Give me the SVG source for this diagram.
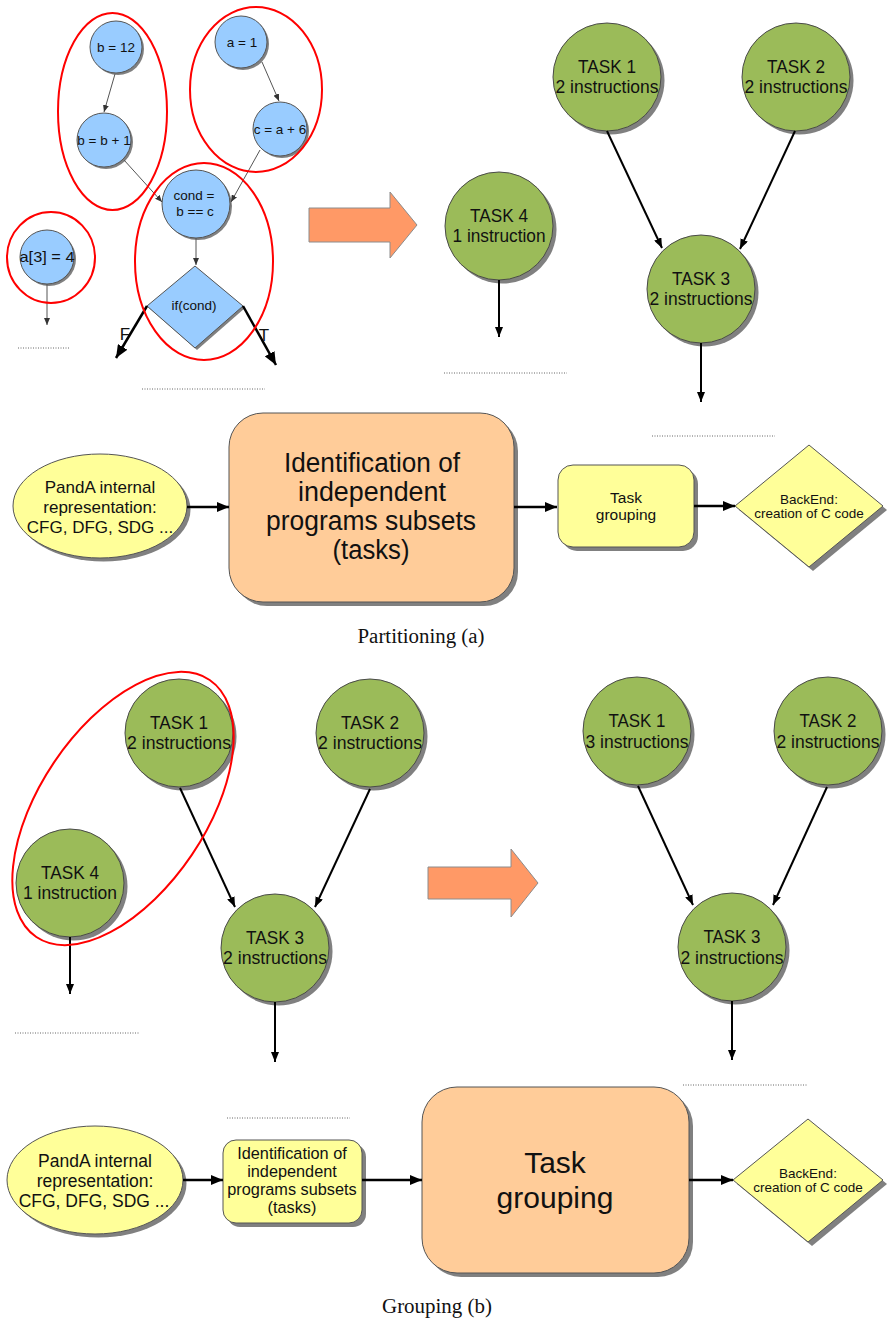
<svg xmlns="http://www.w3.org/2000/svg" width="889" height="1324" viewBox="0 0 889 1324">
  <defs>
    <style>
      text { font-family: "Liberation Sans", Arial, sans-serif; fill: #111; text-anchor: middle; }
      .cap { font-family: "Liberation Serif", "Times New Roman", serif; font-size: 20px; }
      .blue { fill: #99ccff; stroke: #555; stroke-width: 1; }
      .green { fill: #9bbb59; stroke: #4a4a4a; stroke-width: 1; }
      .peach { fill: #ffcc99; stroke: #555; stroke-width: 1; }
      .yellow { fill: #ffff99; stroke: #555; stroke-width: 1; }
      .sh { fill: #808080; stroke: none; }
      .t-blue { font-size: 13.5px; }
      .t-task { font-size: 18px; }
      .thin { stroke: #555; stroke-width: 1; fill: none; marker-end: url(#headS); }
      .thick { stroke: #000; stroke-width: 2; fill: none; marker-end: url(#head); }
      .flow { stroke: #000; stroke-width: 2.5; fill: none; marker-end: url(#headF); }
      .branch { stroke: #000; stroke-width: 2.5; fill: none; marker-end: url(#headL); }
      .group { fill: none; stroke: #ff0000; stroke-width: 2; }
      .dots { stroke: #666; stroke-width: 1; stroke-dasharray: 1 1.5; fill: none; }
      .big-arrow { fill: #ff9966; stroke: #8c8c8c; stroke-width: 1; }
    </style>
    <marker id="head" viewBox="0 0 10 8" refX="10" refY="4" markerWidth="10" markerHeight="8" markerUnits="userSpaceOnUse" orient="auto">
      <path d="M0,0 L10,4 L0,8 z" fill="#000"/>
    </marker>
    <marker id="headS" viewBox="0 0 7 6" refX="7" refY="3" markerWidth="7" markerHeight="6" markerUnits="userSpaceOnUse" orient="auto">
      <path d="M0,0 L7,3 L0,6 z" fill="#333"/>
    </marker>
    <marker id="headF" viewBox="0 0 12 10" refX="12" refY="5" markerWidth="12" markerHeight="10" markerUnits="userSpaceOnUse" orient="auto">
      <path d="M0,0 L12,5 L0,10 z" fill="#000"/>
    </marker>
    <marker id="headL" viewBox="0 0 13 11" refX="13" refY="5.5" markerWidth="13" markerHeight="11" markerUnits="userSpaceOnUse" orient="auto">
      <path d="M0,0 L13,5.5 L0,11 z" fill="#000"/>
    </marker>
  </defs>

  <rect width="889" height="1324" fill="#fff"/>

  <!-- ===== (a) control/data flow graph of the input code ===== -->
  <g id="cfg-b12">
    <circle class="sh" cx="118" cy="49" r="26"/>
    <circle class="blue" cx="116" cy="47" r="26"/>
    <text class="t-blue" x="116" y="52">b = 12</text>
  </g>
  <g id="cfg-bb1">
    <circle class="sh" cx="106" cy="142" r="27"/>
    <circle class="blue" cx="104" cy="140" r="27"/>
    <text class="t-blue" x="104" y="145">b = b + 1</text>
  </g>
  <g id="cfg-a1">
    <circle class="sh" cx="243" cy="44" r="26"/>
    <circle class="blue" cx="241" cy="42" r="26"/>
    <text class="t-blue" x="242" y="47">a = 1</text>
  </g>
  <g id="cfg-ca6">
    <circle class="sh" cx="282" cy="131" r="27"/>
    <circle class="blue" cx="280" cy="129" r="27"/>
    <text class="t-blue" x="280" y="134">c = a + 6</text>
  </g>
  <g id="cfg-cond">
    <circle class="sh" cx="198" cy="206" r="34"/>
    <circle class="blue" cx="196" cy="204" r="34"/>
    <text class="t-blue" x="194" y="200">cond =</text>
    <text class="t-blue" x="195" y="216">b == c</text>
  </g>
  <g id="cfg-a3">
    <circle class="sh" cx="49" cy="259" r="27"/>
    <circle class="blue" cx="47" cy="257" r="27"/>
    <text x="47" y="262" font-size="15" textLength="55" lengthAdjust="spacingAndGlyphs">a[3] = 4</text>
  </g>
  <g id="cfg-if">
    <polygon class="sh" points="197,268 245,308 197,350 149,308"/>
    <polygon class="blue" points="195,266 243,306 195,348 147,306"/>
    <text class="t-blue" x="194" y="310">if(cond)</text>
  </g>

  <g id="cfg-edges">
    <path class="thin" d="M115,74 L104,112"/>
    <path class="thin" d="M124,160 L162,202"/>
    <path class="thin" d="M262,62 L279,101"/>
    <path class="thin" d="M260,150 L231,202"/>
    <path class="thin" d="M196,238 L196,265"/>
    <path class="thin" d="M47,284 L47,325"/>
    <path class="branch" d="M147,306 L116,358"/>
    <path class="branch" d="M243,306 L276,365"/>
    <text x="125" y="340" font-size="17">F</text>
    <text x="264" y="341" font-size="17">T</text>
  </g>

  <!-- subsets found in the graph -->
  <g id="cfg-subsets">
    <ellipse class="group" cx="112.5" cy="111.5" rx="54.5" ry="98.5"/>
    <ellipse class="group" cx="256" cy="89.5" rx="66" ry="82.5"/>
    <ellipse class="group" cx="204" cy="261.5" rx="69" ry="98.5"/>
    <ellipse class="group" cx="51" cy="257.5" rx="44" ry="45.5"/>
  </g>

  <path class="dots" d="M18,348 H70 M142,389 H265 M444,373 H567 M652,436 H775"/>

  <polygon id="step-arrow-a" class="big-arrow" points="309,208 390,208 390,192 417,225 390,258 390,242 309,242"/>

  <!-- resulting tasks -->
  <g id="a-task1">
    <circle class="sh" cx="610.5" cy="80.5" r="54"/>
    <circle class="green" cx="607" cy="77" r="54"/>
    <text class="t-task" x="607" y="73" textLength="58" lengthAdjust="spacingAndGlyphs">TASK 1</text>
    <text class="t-task" x="607" y="93" textLength="103" lengthAdjust="spacingAndGlyphs">2 instructions</text>
  </g>
  <g id="a-task2">
    <circle class="sh" cx="799.5" cy="80.5" r="54"/>
    <circle class="green" cx="796" cy="77" r="54"/>
    <text class="t-task" x="796" y="73" textLength="58" lengthAdjust="spacingAndGlyphs">TASK 2</text>
    <text class="t-task" x="796" y="93" textLength="103" lengthAdjust="spacingAndGlyphs">2 instructions</text>
  </g>
  <g id="a-task3">
    <circle class="sh" cx="704.5" cy="292.5" r="54"/>
    <circle class="green" cx="701" cy="289" r="54"/>
    <text class="t-task" x="701" y="285" textLength="58" lengthAdjust="spacingAndGlyphs">TASK 3</text>
    <text class="t-task" x="701" y="305" textLength="103" lengthAdjust="spacingAndGlyphs">2 instructions</text>
  </g>
  <g id="a-task4">
    <circle class="sh" cx="502.5" cy="229.5" r="54"/>
    <circle class="green" cx="499" cy="226" r="54"/>
    <text class="t-task" x="499" y="222" textLength="58" lengthAdjust="spacingAndGlyphs">TASK 4</text>
    <text class="t-task" x="499" y="242" textLength="93" lengthAdjust="spacingAndGlyphs">1 instruction</text>
  </g>
  <g id="a-task-edges">
    <path class="thick" d="M607,131 L662,248"/>
    <path class="thick" d="M795,131 L740,249"/>
    <path class="thick" d="M499,280 L499,337"/>
    <path class="thick" d="M701,343 L701,402"/>
  </g>

  <!-- flow (a): partitioning highlighted -->
  <g id="a-ir">
    <ellipse class="sh" cx="103.5" cy="509.5" rx="87" ry="52"/>
    <ellipse class="yellow" cx="100" cy="506" rx="87" ry="52"/>
    <text x="100" y="493" font-size="17">PandA internal</text>
    <text x="100" y="513" font-size="17">representation:</text>
    <text x="100" y="533" font-size="17">CFG, DFG, SDG ...</text>
  </g>
  <g id="a-partition">
    <rect class="sh" x="233" y="417" width="285" height="189" rx="34"/>
    <rect class="peach" x="229" y="413" width="285" height="189" rx="34"/>
    <text x="372" y="472" font-size="27" textLength="176" lengthAdjust="spacingAndGlyphs">Identification of</text>
    <text x="372" y="501" font-size="27" textLength="148" lengthAdjust="spacingAndGlyphs">independent</text>
    <text x="371" y="530" font-size="27" textLength="210" lengthAdjust="spacingAndGlyphs">programs subsets</text>
    <text x="371" y="559" font-size="27" textLength="77" lengthAdjust="spacingAndGlyphs">(tasks)</text>
  </g>
  <g id="a-grouping">
    <rect class="sh" x="562" y="469" width="136" height="82" rx="15"/>
    <rect class="yellow" x="558" y="465" width="136" height="82" rx="15"/>
    <text x="626" y="503" font-size="15.5">Task</text>
    <text x="626" y="520" font-size="15.5">grouping</text>
  </g>
  <g id="a-backend">
    <polygon class="sh" points="739,510 813,449 887,510 813,571"/>
    <polygon class="yellow" points="735,506 809,445 883,506 809,567"/>
    <text x="809" y="504" font-size="13.5">BackEnd:</text>
    <text x="809" y="518" font-size="13.5">creation of C code</text>
  </g>
  <g id="a-flow">
    <path class="flow" d="M187,507 L229,507"/>
    <path class="flow" d="M514,507 L557,507"/>
    <path class="flow" d="M694,506 L735,506"/>
  </g>
  <text class="cap" x="421" y="643" textLength="127" lengthAdjust="spacingAndGlyphs">Partitioning (a)</text>

  <!-- ===== (b) grouping of tasks ===== -->
  <g id="b-task1">
    <circle class="sh" cx="182.5" cy="736.5" r="54"/>
    <circle class="green" cx="179" cy="733" r="54"/>
    <text class="t-task" x="179" y="729" textLength="58" lengthAdjust="spacingAndGlyphs">TASK 1</text>
    <text class="t-task" x="179" y="749" textLength="104" lengthAdjust="spacingAndGlyphs">2 instructions</text>
  </g>
  <g id="b-task2">
    <circle class="sh" cx="373.5" cy="736.5" r="54"/>
    <circle class="green" cx="370" cy="733" r="54"/>
    <text class="t-task" x="370" y="729" textLength="58" lengthAdjust="spacingAndGlyphs">TASK 2</text>
    <text class="t-task" x="370" y="749" textLength="104" lengthAdjust="spacingAndGlyphs">2 instructions</text>
  </g>
  <g id="b-task4">
    <circle class="sh" cx="73.5" cy="886.5" r="54"/>
    <circle class="green" cx="70" cy="883" r="54"/>
    <text class="t-task" x="70" y="879" textLength="58" lengthAdjust="spacingAndGlyphs">TASK 4</text>
    <text class="t-task" x="70" y="899" textLength="94" lengthAdjust="spacingAndGlyphs">1 instruction</text>
  </g>
  <g id="b-task3">
    <circle class="sh" cx="278.5" cy="951.5" r="54"/>
    <circle class="green" cx="275" cy="948" r="54"/>
    <text class="t-task" x="275" y="944" textLength="58" lengthAdjust="spacingAndGlyphs">TASK 3</text>
    <text class="t-task" x="275" y="964" textLength="104" lengthAdjust="spacingAndGlyphs">2 instructions</text>
  </g>
  <g id="b-task-edges">
    <path class="thick" d="M180,788 L235,907"/>
    <path class="thick" d="M370,789 L315,907"/>
    <path class="thick" d="M70,937 L70,994"/>
    <path class="thick" d="M275,1002 L275,1062"/>
  </g>
  <ellipse id="b-merge" class="group" cx="123" cy="808.5" rx="155" ry="83" transform="rotate(-56 123 808.5)"/>

  <path class="dots" d="M15,1033 H140 M227,1118 H350 M683,1085 H808"/>

  <polygon id="step-arrow-b" class="big-arrow" points="428,867 511,867 511,849 538,883 511,917 511,899 428,899"/>

  <g id="c-task1">
    <circle class="sh" cx="640.5" cy="734.5" r="54"/>
    <circle class="green" cx="637" cy="731" r="54"/>
    <text class="t-task" x="637" y="727" textLength="57" lengthAdjust="spacingAndGlyphs">TASK 1</text>
    <text class="t-task" x="637" y="748" textLength="103" lengthAdjust="spacingAndGlyphs">3 instructions</text>
  </g>
  <g id="c-task2">
    <circle class="sh" cx="831.5" cy="734.5" r="54"/>
    <circle class="green" cx="828" cy="731" r="54"/>
    <text class="t-task" x="828" y="727" textLength="57" lengthAdjust="spacingAndGlyphs">TASK 2</text>
    <text class="t-task" x="828" y="748" textLength="103" lengthAdjust="spacingAndGlyphs">2 instructions</text>
  </g>
  <g id="c-task3">
    <circle class="sh" cx="735.5" cy="950.5" r="54"/>
    <circle class="green" cx="732" cy="947" r="54"/>
    <text class="t-task" x="732" y="943" textLength="57" lengthAdjust="spacingAndGlyphs">TASK 3</text>
    <text class="t-task" x="732" y="964" textLength="103" lengthAdjust="spacingAndGlyphs">2 instructions</text>
  </g>
  <g id="c-task-edges">
    <path class="thick" d="M638,786 L693,905"/>
    <path class="thick" d="M827,787 L773,905"/>
    <path class="thick" d="M732,1001 L732,1060"/>
  </g>

  <!-- flow (b): grouping highlighted -->
  <g id="b-ir">
    <ellipse class="sh" cx="98.5" cy="1183.5" rx="88" ry="54"/>
    <ellipse class="yellow" cx="95" cy="1180" rx="88" ry="54"/>
    <text x="95" y="1167" font-size="17.5">PandA internal</text>
    <text x="95" y="1187" font-size="17.5">representation:</text>
    <text x="94" y="1207" font-size="17.5">CFG, DFG, SDG ...</text>
  </g>
  <g id="b-partition">
    <rect class="sh" x="227" y="1144" width="139" height="83" rx="13"/>
    <rect class="yellow" x="223" y="1140" width="139" height="83" rx="13"/>
    <text x="292" y="1159" font-size="16.3">Identification of</text>
    <text x="292" y="1177" font-size="16.3">independent</text>
    <text x="292" y="1195" font-size="16.3">programs subsets</text>
    <text x="292" y="1213" font-size="16.3">(tasks)</text>
  </g>
  <g id="b-grouping">
    <rect class="sh" x="426" y="1091" width="267" height="186" rx="35"/>
    <rect class="peach" x="422" y="1087" width="267" height="186" rx="35"/>
    <text x="555" y="1173" font-size="30">Task</text>
    <text x="555" y="1208" font-size="30">grouping</text>
  </g>
  <g id="b-backend">
    <polygon class="sh" points="737,1184 812,1123 887,1184 812,1246"/>
    <polygon class="yellow" points="733,1180 808,1119 883,1180 808,1242"/>
    <text x="808" y="1178" font-size="13.5">BackEnd:</text>
    <text x="808" y="1192" font-size="13.5">creation of C code</text>
  </g>
  <g id="b-flow">
    <path class="flow" d="M183,1180 L223,1180"/>
    <path class="flow" d="M362,1180 L422,1180"/>
    <path class="flow" d="M689,1180 L733,1180"/>
  </g>
  <text class="cap" x="437" y="1313" textLength="110" lengthAdjust="spacingAndGlyphs">Grouping (b)</text>
</svg>
